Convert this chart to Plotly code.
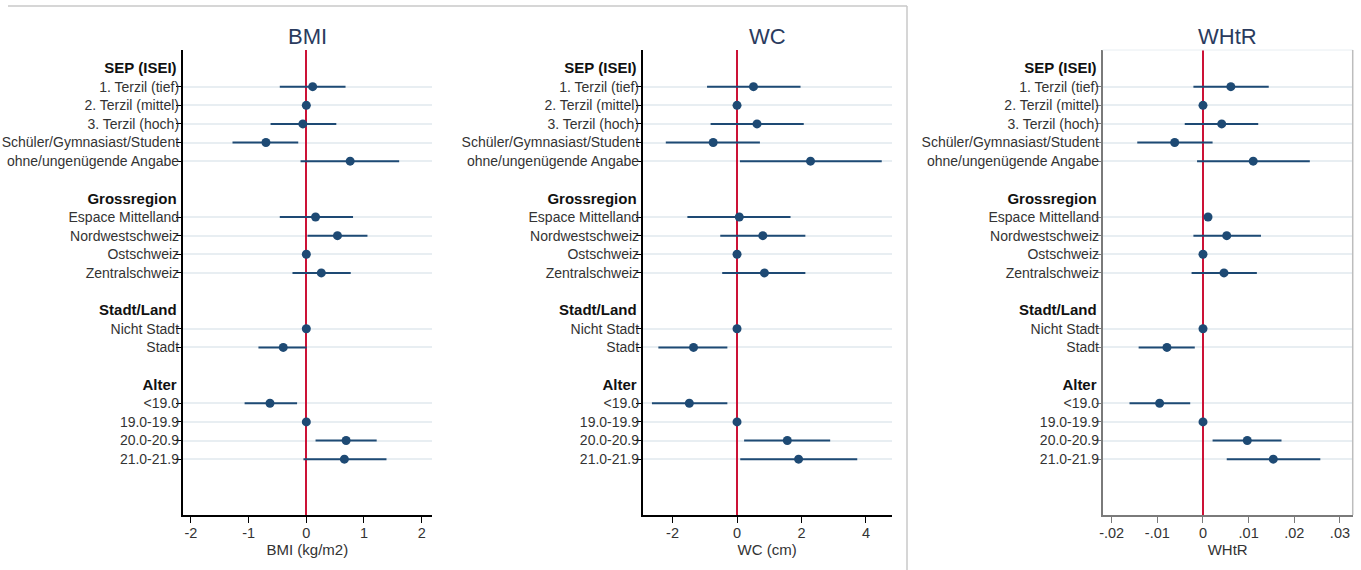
import plotly.graph_objects as go

# ---------------- data ----------------
group_titles = ["SEP (ISEI)", "Grossregion", "Stadt/Land", "Alter"]
sep_labels = ["1. Terzil (tief)", "2. Terzil (mittel)", "3. Terzil (hoch)",
              "Schüler/Gymnasiast/Student", "ohne/ungenügende Angabe"]
region_labels = ["Espace Mittelland", "Nordwestschweiz", "Ostschweiz", "Zentralschweiz"]
urban_labels = ["Nicht Stadt", "Stadt"]
age_labels = ["<19.0", "19.0-19.9", "20.0-20.9", "21.0-21.9"]

bmi_est = [0.11, 0, -0.06, -0.70, 0.76, 0.16, 0.54, 0, 0.26, 0, -0.40, -0.63, 0, 0.69, 0.66]
bmi_lo = [-0.46, 0, -0.62, -1.28, -0.10, -0.46, 0.02, 0, -0.24, 0, -0.83, -1.07, 0, 0.16, -0.05]
bmi_hi = [0.68, 0, 0.52, -0.14, 1.61, 0.81, 1.06, 0, 0.77, 0, 0.005, -0.16, 0, 1.22, 1.39]

wc_est = [0.51, 0, 0.62, -0.74, 2.28, 0.07, 0.80, 0, 0.85, 0, -1.35, -1.48, 0, 1.56, 1.91]
wc_lo = [-0.93, 0, -0.82, -2.21, 0.09, -1.54, -0.52, 0, -0.46, 0, -2.44, -2.64, 0, 0.22, 0.10]
wc_hi = [1.97, 0, 2.07, 0.71, 4.49, 1.66, 2.12, 0, 2.12, 0, -0.30, -0.30, 0, 2.89, 3.73]

whtr_est = [0.0061, 0, 0.0041, -0.0062, 0.0110, 0.0011, 0.0052, 0, 0.0046, 0, -0.0079, -0.0095, 0, 0.0097, 0.0154]
whtr_lo = [-0.0021, 0, -0.0040, -0.0144, -0.0013, 0.0009, -0.0021, 0, -0.0025, 0, -0.0141, -0.0161, 0, 0.0021, 0.0052]
whtr_hi = [0.0144, 0, 0.0121, 0.0021, 0.0234, 0.0013, 0.0127, 0, 0.0118, 0, -0.0018, -0.0028, 0, 0.0172, 0.0257]

panel_titles = ["BMI", "WC", "WHtR"]
axis_titles = ["BMI (kg/m2)", "WC (cm)", "WHtR"]
bmi_ticks = [-2, -1, 0, 1, 2]
bmi_ticktext = ["-2", "-1", "0", "1", "2"]
wc_ticks = [-2, 0, 2, 4]
wc_ticktext = ["-2", "0", "2", "4"]
whtr_ticks = [-0.02, -0.01, 0, 0.01, 0.02, 0.03]
whtr_ticktext = ["-.02", "-.01", "0", ".01", ".02", ".03"]

# ---------------- row layout ----------------
item_labels, item_pos, head_labels, head_pos = [], [], [], []
k = -1
for title, labels in zip(group_titles, [sep_labels, region_labels, urban_labels, age_labels]):
    head_labels.append("<b>" + title + "</b>")
    head_pos.append(k)
    k += 1
    for lab in labels:
        item_labels.append(lab)
        item_pos.append(k)
        k += 1
    k += 1  # blank row

NAVY = "#1e4a74"
RED = "#cc1236"
FONT = "Liberation Sans, Arial, sans-serif"

panels = [
    (bmi_est, bmi_lo, bmi_hi, [-2.145, 2.18], bmi_ticks, bmi_ticktext, [180, 430], "black"),
    (wc_est, wc_lo, wc_hi, [-2.93, 4.80], wc_ticks, wc_ticktext, [641, 890.7], "black"),
    (whtr_est, whtr_lo, whtr_hi, [-0.0220, 0.0328], whtr_ticks, whtr_ticktext, [1102, 1352.7], "#7a7a7a"),
]

W, H = 1361, 570
ytop, ybot = 50, 515
ydom = [(H - ybot) / H, (H - ytop) / H]

fig = go.Figure()
layout = dict(
    width=W, height=H,
    margin=dict(l=0, r=0, t=0, b=0),
    paper_bgcolor="white", plot_bgcolor="white",
    showlegend=False,
    font=dict(family=FONT, color="#333333"),
)
annotations = []
shapes = []

for i, (est, lo, hi, xr, tv, tt, xpx, axcol) in enumerate(panels):
    n = i + 1
    xa = "x" if n == 1 else f"x{n}"
    ya = "y" if n == 1 else f"y{n}"
    yh = f"y{n + 3}"
    xkey = "xaxis" if n == 1 else f"xaxis{n}"
    ykey = "yaxis" if n == 1 else f"yaxis{n}"
    yhkey = f"yaxis{n + 3}"
    xdom = [xpx[0] / W, xpx[1] / W]

    fig.add_trace(go.Scatter(
        x=est, y=item_pos, xaxis=xa, yaxis=ya, mode="markers",
        marker=dict(color=NAVY, size=9),
        error_x=dict(type="data", symmetric=False,
                     array=[h - e for h, e in zip(hi, est)],
                     arrayminus=[e - l for e, l in zip(est, lo)],
                     color=NAVY, thickness=2, width=0),
        hoverinfo="skip",
    ))
    # header axis carrier (invisible)
    fig.add_trace(go.Scatter(
        x=[0] * len(head_pos), y=head_pos, xaxis=xa, yaxis=yh, mode="markers",
        marker=dict(opacity=0), hoverinfo="skip",
    ))

    layout[xkey] = dict(
        domain=xdom, range=xr, anchor=ya,
        showline=True, linecolor=axcol, linewidth=1.5,
        ticks="outside", ticklen=6, tickcolor=axcol, tickwidth=1,
        tickvals=tv, ticktext=tt, tickfont=dict(size=14.5, color="#333333"),
        ticklabelstandoff=-2,
        showgrid=False,
        zeroline=True, zerolinecolor=RED, zerolinewidth=2,
        title=dict(text=axis_titles[i], font=dict(size=15, color="#333333"), standoff=0),
    )
    layout[ykey] = dict(
        domain=ydom, range=[23.0, -1.97], anchor=xa,
        showline=True, linecolor=axcol, linewidth=1.5,
        ticks="outside", ticklen=5, tickcolor=axcol, tickwidth=1,
        tickvals=item_pos, ticktext=item_labels,
        tickfont=dict(size=14, color="#333333"),
        ticklabelstandoff=-6,
        showgrid=True, gridcolor="#e8eef2", gridwidth=1.5,
        zeroline=False,
    )
    layout[yhkey] = dict(
        overlaying=ya, anchor=xa, side="left",
        range=[23.0, -1.97],
        showline=False, ticks="", showgrid=False, zeroline=False,
        tickvals=head_pos, ticktext=head_labels,
        tickfont=dict(size=15, color="#111111"),
        ticklabelstandoff=5,
    )
    annotations.append(dict(
        text=panel_titles[i], xref="paper", yref="paper",
        x=(xdom[0] + xdom[1]) / 2, y=(H - 37) / H,
        xanchor="center", yanchor="middle", showarrow=False,
        font=dict(size=22, color="#2a3b5e", family=FONT),
    ))

# outer frame around panels 1-2
shapes.append(dict(type="line", xref="paper", yref="paper",
                   x0=5 / W, x1=906 / W, y0=(H - 6) / H, y1=(H - 6) / H,
                   line=dict(color="#c8c8c8", width=1.5)))
shapes.append(dict(type="line", xref="paper", yref="paper",
                   x0=906 / W, x1=906 / W, y0=0, y1=(H - 6) / H,
                   line=dict(color="#c8c8c8", width=1.5)))
# panel 3 top & right border
shapes.append(dict(type="line", xref="paper", yref="paper",
                   x0=1102 / W, x1=1352.7 / W, y0=ydom[1], y1=ydom[1],
                   line=dict(color="#e8eef2", width=1)))
shapes.append(dict(type="line", xref="paper", yref="paper",
                   x0=1352.7 / W, x1=1352.7 / W, y0=ydom[0], y1=ydom[1],
                   line=dict(color="#bdbdbd", width=1.5)))

layout["annotations"] = annotations
layout["shapes"] = shapes
fig.update_layout(**layout)

fig.write_html(
    "out.html",
    config={"displayModeBar": False},
    post_script="document.body.style.margin='0';document.body.style.overflow='hidden';",
)
